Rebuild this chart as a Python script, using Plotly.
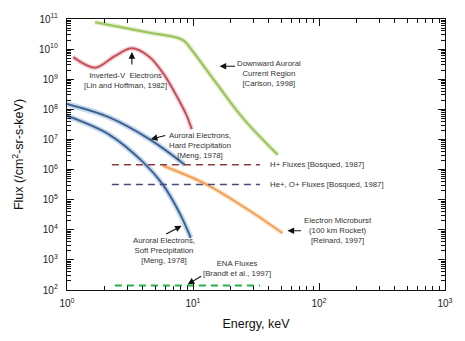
import plotly.graph_objects as go

# ---- data (energy in keV, flux in /cm^2-sr-s-keV) ----
downward_E = [1.67, 3.0, 4.54, 7.46, 8.6, 9.95, 15.4, 25.0, 47.0]
downward_F = [7.8e10, 4.9e10, 3.5e10, 2.4e10, 1.8e10, 8.5e9, 7.2e8, 5.0e7, 3.1e6]

invv_E = [1.12, 1.67, 2.4, 3.27, 4.54, 5.97, 7.57, 8.91, 9.77]
invv_F = [5.4e9, 2.4e9, 5.9e9, 1.06e10, 5.4e9, 1.32e9, 2.37e8, 6.2e7, 2.2e7]

hard_E = [1.0, 2.19, 4.54, 8.6]
hard_F = [1.5e8, 5.3e7, 1.0e7, 1.45e6]

soft_E = [1.0, 2.19, 4.0, 5.75, 7.85, 9.6]
soft_F = [6.1e7, 1.4e7, 1.8e6, 3.2e5, 3.5e4, 5.4e3]

burst_E = [5.75, 12.8, 28.1, 51.3]
burst_F = [1.35e6, 3.2e5, 4.3e4, 7.7e3]

hplus_E = [2.27, 34.0]
hplus_F = [1.45e6, 1.45e6]
heplus_E = [2.27, 34.0]
heplus_F = [3.2e5, 3.2e5]
ena_E = [2.4, 34.0]
ena_F = [141, 141]

x_tickvals = [1, 10, 100, 1000]
x_ticktext = ["10<sup>0</sup>", "10<sup>1</sup>", "10<sup>2</sup>", "10<sup>3</sup>"]
y_exps = list(range(2, 12))
y_tickvals = [10 ** p for p in y_exps]
y_ticktext = [f"10<sup>{p}</sup>" for p in y_exps]

FONT = "Liberation Sans, Arial, sans-serif"

fig = go.Figure()


def glow_curve(xs, ys, core, halo, width=2.0, halo_width=5.5, smoothing=1.0):
    fig.add_trace(go.Scatter(x=xs, y=ys, mode="lines",
                             line=dict(color=halo, width=halo_width, shape="spline", smoothing=smoothing),
                             hoverinfo="skip"))
    fig.add_trace(go.Scatter(x=xs, y=ys, mode="lines",
                             line=dict(color=core, width=width, shape="spline", smoothing=smoothing)))


glow_curve(downward_E, downward_F, "#9ec45e", "rgba(190,220,150,0.45)", 2.2, 5)
glow_curve(invv_E, invv_F, "#c4505c", "rgba(235,170,175,0.5)", 2.0, 5, 0.9)
glow_curve(hard_E, hard_F, "#3d6290", "rgba(160,190,225,0.6)", 2.0, 5.5)
glow_curve(soft_E, soft_F, "#3d6290", "rgba(160,190,225,0.6)", 2.0, 5.5)
glow_curve(burst_E, burst_F, "#f2a35c", "rgba(250,210,170,0.5)", 2.2, 5)

fig.add_trace(go.Scatter(x=hplus_E, y=hplus_F, mode="lines",
                         line=dict(color="#8c3a3e", width=1.6, dash="7px,5px")))
fig.add_trace(go.Scatter(x=heplus_E, y=heplus_F, mode="lines",
                         line=dict(color="#4a4a7e", width=1.6, dash="7px,5px")))
fig.add_trace(go.Scatter(x=ena_E, y=ena_F, mode="lines",
                         line=dict(color="#22b14c", width=2.2, dash="7px,5px")))

ann_font = dict(family=FONT, size=7.8, color="#333333")


def label(text, lx, ly, anchor="center"):
    fig.add_annotation(x=lx, y=ly, xref="x", yref="y", text=text, showarrow=False,
                       font=ann_font, xanchor=anchor, yanchor="middle", align="center")


def arrow(hx, hy, axp, ayp):
    fig.add_annotation(x=hx, y=hy, xref="x", yref="y", text="", showarrow=True,
                       ax=axp, ay=ayp, arrowhead=2, arrowsize=1.2, arrowwidth=1.1,
                       arrowcolor="#111111", standoff=0)


# annotation positions are log10 coordinates on the log axes
label("Inverted-V  Electrons<br>[Lin and Hoffman, 1982]", 0.467, 8.97)
arrow(0.515, 9.90, 0, 14)

label("Downward Auroral<br>Current Region<br>[Carlson, 1998]", 1.607, 9.19)
arrow(1.211, 9.43, 17, 0)

label("Auroral Electrons,<br>Hard Precipitation<br>[Meng, 1978]", 1.053, 6.79)
arrow(0.665, 7.01, 16, -4)

label("H+ Fluxes [Bosqued, 1987]", 1.599, 6.17, "left")
label("He+, O+ Fluxes [Bosqued, 1987]", 1.599, 5.52, "left")

label("Electron Microburst<br>(100 km Rocket)<br>[Reinard, 1997]", 2.154, 3.97)
arrow(1.75, 3.97, 15, 0)

label("Auroral Electrons,<br>Soft Precipitation<br>[Meng, 1978]", 0.768, 3.32)
arrow(0.91, 4.13, -17, 9)

label("ENA Fluxes<br>[Brandt et al., 1997]", 1.346, 2.70)
arrow(0.958, 2.19, 15, -9)

x_minor = [m * 10 ** d for d in range(0, 3) for m in range(2, 10)]
y_minor = [m * 10 ** d for d in range(2, 11) for m in range(2, 10)]

axis_common = dict(
    type="log", showgrid=False, zeroline=False,
    showline=True, linecolor="#111111", linewidth=1.3, mirror="ticks",
    ticks="inside", ticklen=7, tickwidth=1.1, tickcolor="#111111",
    tickfont=dict(family=FONT, size=10, color="#222222"),
)

fig.update_xaxes(
    **axis_common, range=[0, 3], tickmode="array",
    tickvals=x_tickvals, ticktext=x_ticktext, ticklabelstandoff=4,
    minor=dict(tickmode="array", tickvals=x_minor, ticks="inside", ticklen=4,
               tickwidth=1, tickcolor="#111111", showgrid=False),
    title=dict(text="Energy, keV", font=dict(family=FONT, size=12.5, color="#111111"),
               standoff=11),
)
fig.update_yaxes(
    **axis_common, range=[2, 11], tickmode="array",
    tickvals=y_tickvals, ticktext=y_ticktext, ticklabelstandoff=6,
    minor=dict(tickmode="array", tickvals=y_minor, ticks="inside", ticklen=4,
               tickwidth=1, tickcolor="#111111", showgrid=False),
    title=dict(text="Flux (/cm<sup>2</sup>-sr-s-keV)",
               font=dict(family=FONT, size=12.5, color="#111111"), standoff=12),
)

fig.update_layout(
    width=465, height=341,
    margin=dict(l=67, r=19, t=13, b=50),
    paper_bgcolor="white", plot_bgcolor="white",
    showlegend=False,
)

fig.write_html("out.html")
